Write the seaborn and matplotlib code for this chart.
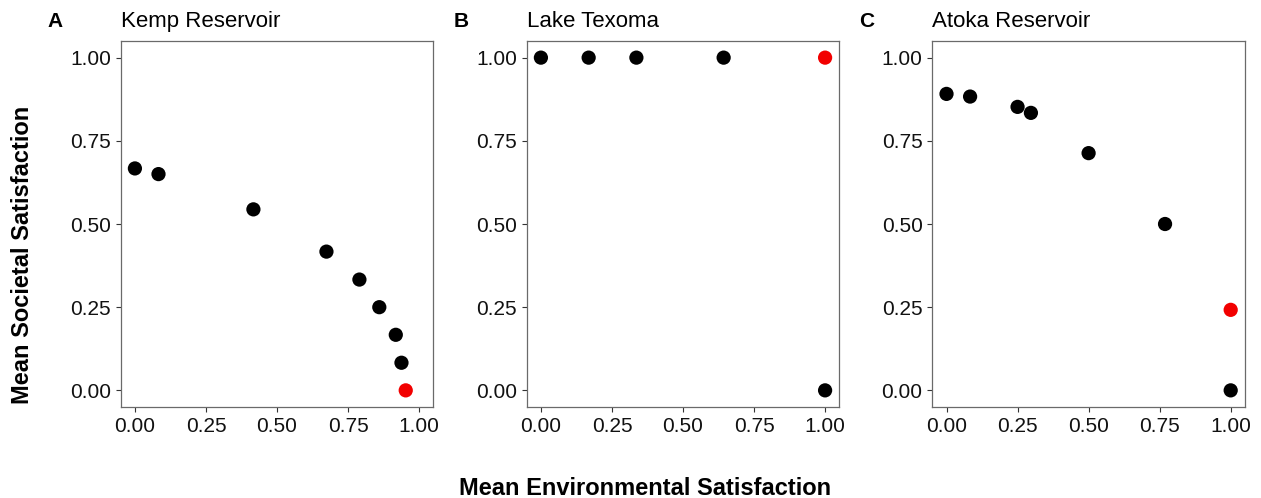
import matplotlib
matplotlib.use("Agg")
import matplotlib.pyplot as plt
import seaborn as sns
import pandas as pd

# Mean environmental (x) and societal (y) satisfaction per reservoir;
# the flag marks the highlighted (red) alternative.
kemp_env = [0.000, 0.083, 0.417, 0.674, 0.790, 0.860, 0.918, 0.938, 0.953]
kemp_soc = [0.667, 0.650, 0.544, 0.417, 0.333, 0.250, 0.167, 0.083, 0.000]
kemp_hl = [False, False, False, False, False, False, False, False, True]

texoma_env = [0.000, 0.168, 0.336, 0.643, 1.000, 1.000]
texoma_soc = [1.000, 1.000, 1.000, 1.000, 1.000, 0.000]
texoma_hl = [False, False, False, False, True, False]

atoka_env = [0.000, 0.083, 0.250, 0.297, 0.500, 0.769, 1.000, 1.000]
atoka_soc = [0.891, 0.883, 0.852, 0.834, 0.713, 0.500, 0.242, 0.000]
atoka_hl = [False, False, False, False, False, False, True, False]

panel_letters = ["A", "B", "C"]
panel_titles = ["Kemp Reservoir", "Lake Texoma", "Atoka Reservoir"]
ticks = [0.0, 0.25, 0.5, 0.75, 1.0]
tick_labels = ["0.00", "0.25", "0.50", "0.75", "1.00"]

panels = [
    (kemp_env, kemp_soc, kemp_hl),
    (texoma_env, texoma_soc, texoma_hl),
    (atoka_env, atoka_soc, atoka_hl),
]

sns.set_theme(style="white")
plt.rcParams["font.family"] = ["Liberation Sans", "DejaVu Sans"]
plt.rcParams["text.color"] = "black"

W, H = 1261, 498
fig = plt.figure(figsize=(W / 100, H / 100), dpi=100)

lefts = [120.7, 526.7, 932.3]
ax_w, ax_top, ax_bot = 312.6, 41.0, 407.0

for i, (env, soc, hl) in enumerate(panels):
    ax = fig.add_axes([lefts[i] / W, (H - ax_bot) / H, ax_w / W,
                       (ax_bot - ax_top) / H])
    df = pd.DataFrame({"env": env, "soc": soc, "hl": hl})
    sns.scatterplot(data=df, x="env", y="soc", hue="hl",
                    palette={False: "black", True: "#f20000"},
                    s=105, linewidth=0, legend=False, ax=ax, zorder=3)
    ax.set_xlim(-0.05, 1.05)
    ax.set_ylim(-0.05, 1.05)
    ax.set_xticks(ticks)
    ax.set_xticklabels(tick_labels)
    ax.set_yticks(ticks)
    ax.set_yticklabels(tick_labels)
    ax.set_xlabel("")
    ax.set_ylabel("")
    ax.tick_params(axis="both", which="major", direction="out", length=3.5,
                   width=0.8, color="#333333", labelsize=15,
                   labelcolor="#111111", pad=3.5, bottom=True, left=True)
    for sp in ax.spines.values():
        sp.set_color("#6a6a6a")
        sp.set_linewidth(0.9)
    ax.set_facecolor("white")
    # panel title and letter
    fig.text(lefts[i] / W, 1 - 27 / H, panel_titles[i], fontsize=16,
             color="black", ha="left", va="baseline")
    fig.text((lefts[i] - 73) / W, 1 - 27 / H, panel_letters[i], fontsize=15,
             fontweight="bold", color="black", ha="left", va="baseline")

fig.text(645 / W, 1 - 488 / H, "Mean Environmental Satisfaction",
         fontsize=17, fontweight="bold", color="black",
         ha="center", va="center")
fig.text(23 / W, 1 - 255 / H, "Mean Societal Satisfaction",
         fontsize=17, fontweight="bold", color="black",
         ha="center", va="center", rotation=90)

fig.savefig("out.png", dpi=100, facecolor="white")
